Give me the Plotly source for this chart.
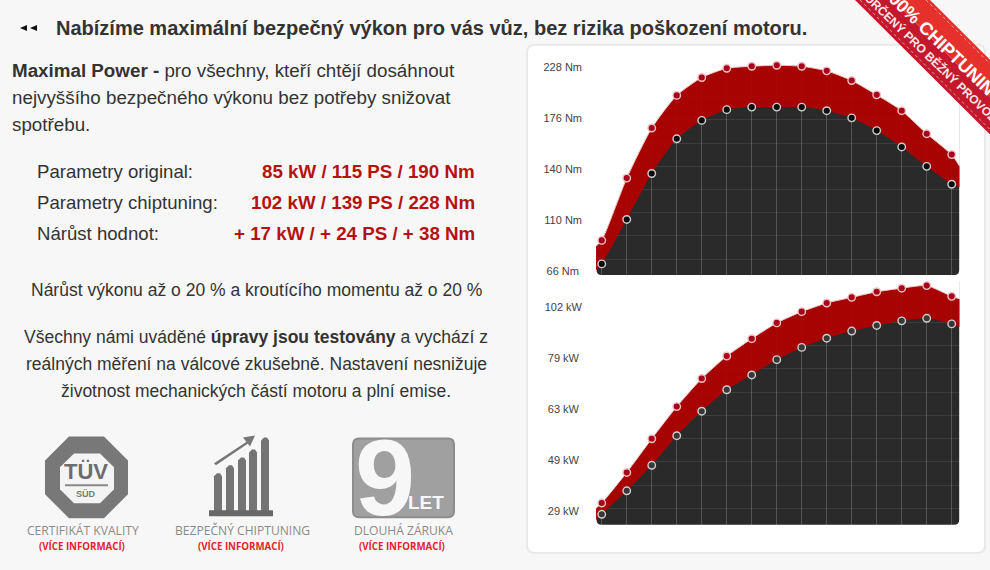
import plotly.graph_objects as go

# positions on the chart's own (non linear) scale: 0 = lowest label, 4 = highest label
point_x = list(range(15))
edge_x = [-0.23, 14.32]

torque_ticks = ["66 Nm\u00a0", "110 Nm", "140 Nm", "176 Nm", "228 Nm"]
torque_chip = [0.60, 1.82, 2.80, 3.44, 3.79, 3.97, 4.01, 4.03, 4.01, 3.92, 3.73, 3.45, 3.14, 2.69, 2.28]
torque_orig = [0.14, 1.01, 1.91, 2.59, 2.95, 3.16, 3.21, 3.21, 3.21, 3.14, 3.00, 2.75, 2.43, 2.05, 1.70]
torque_chip_edges = [0.49, 2.05]
torque_orig_edges = [0.02, 1.64]

power_ticks = ["29 kW\u00a0", "49 kW\u00a0", "63 kW\u00a0", "79 kW\u00a0", "102 kW"]
power_chip = [0.16, 0.76, 1.42, 2.05, 2.60, 3.04, 3.38, 3.69, 3.91, 4.08, 4.19, 4.30, 4.37, 4.42, 4.21]
power_orig = [-0.06, 0.40, 0.90, 1.48, 1.96, 2.38, 2.67, 2.97, 3.21, 3.39, 3.53, 3.64, 3.73, 3.78, 3.67]
power_chip_edges = [0.06, 4.16]
power_orig_edges = [-0.17, 3.61]

W = 990
H = 570
PAGE = "#f7f7f7"
DARK = "#2a2a2a"
TEXT = "#333333"
RED_TEXT = "#b51212"
FONT = "Liberation Sans"


def px(x):
    return x / W


def py(y):
    return 1 - y / H


def poly(points):
    parts = [f"{px(x):.5f},{py(y):.5f}" for x, y in points]
    return "M" + " L".join(parts) + " Z"


def add_shape(points, color):
    fig.add_shape(type="path", path=poly(points), xref="paper", yref="paper",
                  fillcolor=color, line_width=0, layer="above")


def round_rect(x0, y0, x1, y1, r_top, r_bottom):
    p = lambda x, y: f"{px(x):.5f},{py(y):.5f}"
    return (f"M{p(x0 + r_top, y0)} L{p(x1 - r_top, y0)} Q{p(x1, y0)} {p(x1, y0 + r_top)} "
            f"L{p(x1, y1 - r_bottom)} Q{p(x1, y1)} {p(x1 - r_bottom, y1)} L{p(x0 + r_bottom, y1)} "
            f"Q{p(x0, y1)} {p(x0, y1 - r_bottom)} L{p(x0, y0 + r_top)} Q{p(x0, y0)} {p(x0 + r_top, y0)} Z")


def label(x, y, text, size=16, color=TEXT, anchor="left", font=FONT, angle=0):
    # annotations carry a small padding round the text
    if anchor == "left":
        x -= 2
    elif anchor == "right":
        x += 2
    fig.add_annotation(x=px(x), y=py(y + 1), xref="paper", yref="paper", text=text, showarrow=False,
                       xanchor=anchor, yanchor="middle", textangle=angle,
                       font=dict(family=font, size=size, color=color))


def add_chart(chip, orig, chip_edges, orig_edges, ticks, top, bottom, grid0, xname, yname, row_top, row_bottom, orig_fill):
    xs = [edge_x[0]] + point_x + [edge_x[1]]
    low = [orig_edges[0]] + orig + [orig_edges[1]]
    high = [chip_edges[0]] + chip + [chip_edges[1]]
    spline = dict(shape="spline", smoothing=0.6, width=0)
    refs = dict(xaxis=xname, yaxis=yname, hoverinfo="skip", showlegend=False)

    # dark plot area with rounded bottom corners, under the axis grid
    fig.add_shape(type="path", xref="paper", yref="paper", layer="below", fillcolor=DARK, line_width=0,
                  path=round_rect(596.5, row_top + 1, 959.2, row_bottom, 0, 5))

    fig.add_trace(go.Scatter(x=xs, y=low, mode="lines", line=spline, **refs))
    fig.add_trace(go.Scatter(x=xs, y=high, mode="lines", line=spline, fill="tonexty",
                             fillcolor="rgba(179,0,0,0.92)", **refs))
    # white above the curve hides the dark plot area and its grid
    fig.add_trace(go.Scatter(x=edge_x, y=[top, top], mode="lines", line=dict(width=0), fill="tonexty",
                             fillcolor="white", **refs))
    fig.add_trace(go.Scatter(x=xs, y=high, mode="lines", line=dict(shape="spline", smoothing=0.6, width=1, color="#f0c8c8"), **refs))

    fig.add_trace(go.Scatter(x=point_x, y=chip, mode="markers", cliponaxis=False,
                             marker=dict(size=7.5, color="#a8001c", line=dict(color="#f3c0c0", width=1.4)), **refs))
    fig.add_trace(go.Scatter(x=point_x, y=orig, mode="markers", cliponaxis=False,
                             marker=dict(size=7.5, color=orig_fill, line=dict(color="#cfcfcf", width=1.4)), **refs))

    fig.update_layout({
        xname.replace("x", "xaxis"): dict(domain=[px(596), px(959.7)], range=edge_x, anchor=yname,
                                          showticklabels=False, ticks="", zeroline=False, showline=False,
                                          tickmode="array", tickvals=point_x, showgrid=True,
                                          gridcolor="rgba(255,255,255,0.2)", gridwidth=1),
        yname.replace("y", "yaxis"): dict(domain=[py(row_bottom), py(row_top)], range=[bottom, top], anchor=xname,
                                          tickmode="array", tickvals=[0, 1, 2, 3, 4], ticktext=ticks,
                                          ticklabelstandoff=13, ticks="", zeroline=False, showline=False,
                                          showgrid=False, tickfont=dict(family=FONT, size=11, color="#444444"),
                                          minor=dict(showgrid=True, tick0=grid0, dtick=0.4546, ticks="",
                                                     gridcolor="rgba(255,255,255,0.09)", gridwidth=1)),
    })


fig = go.Figure()

# page furniture: white panel behind the charts
fig.add_shape(type="path", xref="paper", yref="paper", layer="below", fillcolor="white",
              line=dict(color="#e9e9e9", width=2), path=round_rect(527, 45, 985, 555, 8, 8))

add_chart(torque_chip, torque_orig, torque_chip_edges, torque_orig_edges, torque_ticks,
          4.41, -0.078, 0.234, "x", "y", 46, 276, "#0c0c0c")
add_chart(power_chip, power_orig, power_chip_edges, power_orig_edges, power_ticks,
          4.53, -0.267, 0.059, "x2", "y2", 281, 526.7, "#383838")

# heading
add_shape([(20, 28), (27, 25), (27, 31)], "#111111")
add_shape([(30, 28), (37, 25), (37, 31)], "#111111")
label(56, 27, "<b>Nabízíme maximální bezpečný výkon pro vás vůz, bez rizika poškození motoru.</b>", 20)

# intro
label(12, 70, "<b>Maximal Power -</b> pro všechny, kteří chtějí dosáhnout", 18.8)
label(12, 97, "nejvyššího bezpečného výkonu bez potřeby snižovat", 18.8)
label(12, 124, "spotřebu.", 18.8)

# parameter table
param_names = ["Parametry original:", "Parametry chiptuning:", "Nárůst hodnot:"]
param_values = ["85 kW / 115 PS / 190 Nm", "102 kW / 139 PS / 228 Nm", "+ 17 kW / + 24 PS / + 38 Nm"]
for row_y, name, value in zip((171, 202, 233), param_names, param_values):
    label(37, row_y, name, 18.6)
    label(475, row_y, f"<b>{value}</b>", 18.75, RED_TEXT, "right")

label(256, 290, "Nárůst výkonu až o 20 % a kroutícího momentu až o 20 %", 17.5, anchor="center")
label(256, 337, "Všechny námi uváděné <b>úpravy jsou testovány</b> a vychází z", 17.5, anchor="center")
label(256, 364, "reálných měření na válcové zkušebně. Nastavení nesnižuje", 17.5, anchor="center")
label(256, 391, "životnost mechanických částí motoru a plní emise.", 17.5, anchor="center")

# TUV badge
add_shape([(69, 438), (104, 438), (128, 462), (128, 496), (104, 520), (69, 520), (45, 496), (45, 462)], "#787878")
add_shape([(74, 455), (100, 455), (114, 469), (114, 491), (100, 505), (74, 505), (60, 491), (60, 469)], "#f4f4f4")
label(86, 472, "<b>TÜV</b>", 22, "#6d6d6d", "center")
add_shape([(65, 486), (108, 486), (108, 488), (65, 488)], "#8a8a8a")
label(86, 495, "<b>SÜD</b>", 9, "#777777", "center")

# rising bars badge
bar_lefts = [214, 226, 238, 249, 261]
bar_tops = [475, 467, 459, 451, 439]
for left, bar_top in zip(bar_lefts, bar_tops):
    add_shape([(left, bar_top + 3), (left + 3, bar_top), (left + 6, bar_top), (left + 8, bar_top + 3),
               (left + 8, 517), (left, 517)], "#747474")
add_shape([(209, 512), (273, 512), (273, 518), (209, 518)], "#686868")
add_shape([(214, 465), (250, 441), (251, 443), (216, 467)], "#777777")
add_shape([(255, 437), (243, 439), (250, 448)], "#777777")

# warranty badge
fig.add_shape(type="path", xref="paper", yref="paper", layer="above", fillcolor="#a0a0a0",
              line=dict(color="#8c8c8c", width=2), path=round_rect(353, 440, 454, 519, 6, 6))
label(385, 478, "<b>9</b>", 108, "#f7f7f7", "center")
label(426, 503, "<b>LET</b>", 19, "#f7f7f7", "center")

# badge captions
caption_x = [83, 242, 403]
caption_titles = ["CERTIFIKÁT KVALITY", "BEZPEČNÝ CHIPTUNING", "DLOUHÁ ZÁRUKA"]
for cx, caption in zip(caption_x, caption_titles):
    label(cx, 531, caption, 12.1, "#8a8a8a", "center", "Open Sans")
    label(cx - 1, 547, "<b>(VÍCE INFORMACÍ)</b>", 9.7, "#e0262e", "center", "Open Sans")

# corner ribbon
add_shape([(855, 0), (893, 0), (990, 97), (990, 135)], "#c4182c")
add_shape([(893, 0), (930, 0), (990, 60), (990, 97)], "#e5302c")
for shift in (860, 926):
    fig.add_shape(type="line", xref="paper", yref="paper", layer="above",
                  x0=px(shift), y0=py(0), x1=px(990), y1=py(990 - shift),
                  line=dict(color="rgba(255,255,255,0.55)", width=1, dash="3px,3px"))
label(943, 44, "<b>100% CHIPTUNING</b>", 18, "white", "center", angle=44)
label(931, 57, "<b>URČENÝ PRO BĚŽNÝ PROVOZ</b>", 12, "#fbe6e6", "center", angle=44)

fig.update_layout(width=W, height=H, margin=dict(l=0, r=0, t=0, b=0), autosize=False,
                  paper_bgcolor=PAGE, plot_bgcolor="rgba(0,0,0,0)", showlegend=False,
                  font=dict(family=FONT, color=TEXT))

fig.write_html("out.html", config={"displayModeBar": False},
               post_script="document.body.style.margin='0';document.body.style.overflow='hidden';")
